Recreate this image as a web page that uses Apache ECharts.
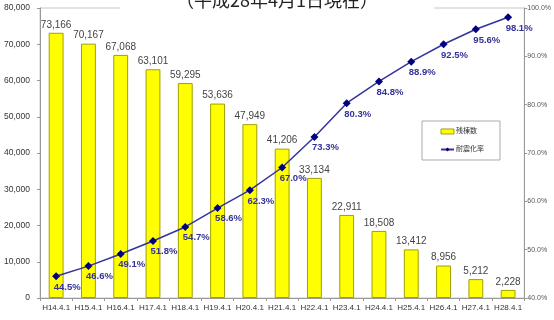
<!DOCTYPE html>
<html>
<head>
<meta charset="utf-8">
<script src="https://cdn.jsdelivr.net/npm/echarts@6/dist/echarts.min.js"></script>
<style>
html,body{margin:0;padding:0;background:#fff;}
#c{width:554px;height:320px;}
</style>
</head>
<body>
<div id="c"></div>
<script>
// 年度別の残棟数と耐震化率
const categories = ['H14.4.1','H15.4.1','H16.4.1','H17.4.1','H18.4.1','H19.4.1','H20.4.1','H21.4.1','H22.4.1','H23.4.1','H24.4.1','H25.4.1','H26.4.1','H27.4.1','H28.4.1'];
const remaining = [73166,70167,67068,63101,59295,53636,47949,41206,33134,22911,18508,13412,8956,5212,2228];
const rate = [44.5,46.6,49.1,51.8,54.7,58.6,62.3,67.0,73.3,80.3,84.8,88.9,92.5,95.6,98.1];
const titleText = '（平成28年4月1日現在）';
const seriesNames = ['残棟数','耐震化率'];

const FONT = '"Liberation Sans", "Noto Sans CJK JP", sans-serif';
const chart = echarts.init(document.getElementById('c'), null, {renderer:'canvas'});

chart.setOption({
  animation:false,
  backgroundColor:'#fff',
  textStyle:{fontFamily:FONT},
  title:{
    text:titleText,
    left:'center',
    top:-9,
    padding:[0,56,2,56],
    backgroundColor:'#fff',
    textStyle:{fontFamily:'"Noto Sans CJK JP", sans-serif',fontSize:18,fontWeight:'normal',color:'#222'}
  },
  legend:{
    orient:'vertical',
    left:422,
    top:121,
    padding:[7,16,7,18],
    itemGap:11,
    itemWidth:13,
    itemHeight:5,
    borderColor:'#aaa',
    borderWidth:1,
    backgroundColor:'#fff',
    textStyle:{fontSize:7,color:'#333',padding:[0,0,0,-3]},
    data:[
      {name:seriesNames[0],icon:'rect',itemStyle:{color:'#ffff00',borderColor:'#a0a000',borderWidth:1}},
      {name:seriesNames[1]}
    ]
  },
  grid:{left:40,right:27,top:8,bottom:22,show:true,borderColor:'#c8c8c8',borderWidth:1},
  xAxis:{
    type:'category',
    data:categories,
    axisLine:{lineStyle:{color:'#999'}},
    axisTick:{show:true,length:3,lineStyle:{color:'#999'}},
    axisLabel:{fontSize:8,color:'#333',margin:6,interval:0}
  },
  yAxis:[
    {
      type:'value',min:0,max:80000,interval:10000,
      splitLine:{show:false},
      axisLine:{show:true,lineStyle:{color:'#999'}},
      axisTick:{show:true,length:3,lineStyle:{color:'#999'}},
      axisLabel:{fontSize:8.5,color:'#333',margin:10,
        formatter:v=>v.toLocaleString('en-US')}
    },
    {
      type:'value',min:40,max:100,interval:10,position:'right',
      splitLine:{show:false},
      axisLine:{show:true,lineStyle:{color:'#999'}},
      axisTick:{show:true,length:3,lineStyle:{color:'#999'}},
      axisLabel:{fontSize:7,color:'#555',margin:3,
        formatter:v=>v.toFixed(1)+'%'}
    }
  ],
  series:[
    {
      name:seriesNames[0],
      type:'bar',
      data:remaining,
      barWidth:'46%',
      itemStyle:{color:'#ffff00',borderColor:'#a0a000',borderWidth:1},
      label:{show:true,position:'top',distance:3,fontSize:10,color:'#444',
        formatter:p=>p.value.toLocaleString('en-US')}
    },
    {
      name:seriesNames[1],
      type:'line',
      yAxisIndex:1,
      data:rate,
      symbol:'diamond',
      symbolSize:8,
      lineStyle:{color:'#3333a0',width:1.5},
      itemStyle:{color:'#000080'},
      label:{show:true,position:'bottom',distance:2,offset:[11,0],
        fontSize:9.5,fontWeight:'bold',color:'#333399',
        formatter:p=>p.value.toFixed(1)+'%'},
      z:5
    }
  ]
});
</script>
</body>
</html>
